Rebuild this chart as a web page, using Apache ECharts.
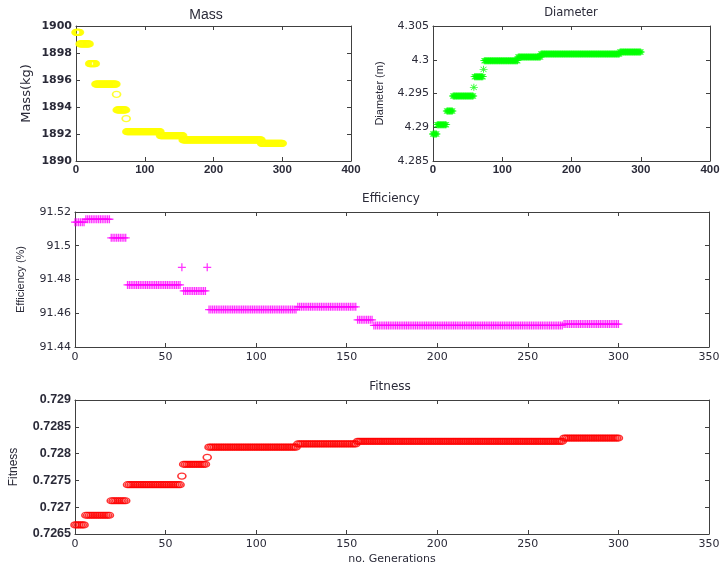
<!DOCTYPE html>
<html>
<head>
<meta charset="utf-8">
<script src="https://cdn.jsdelivr.net/npm/echarts@6/dist/echarts.min.js"></script>
<style>html,body{margin:0;padding:0;background:#fff;}#c{width:723px;height:570px;}</style>
</head>
<body>
<div id="c"></div>
<script>
// Step data: [firstGeneration, lastGeneration, value]
const massSteps = [
  [0, 5, 1899.53], [6, 19, 1898.67], [20, 28, 1897.21], [29, 58, 1895.70],
  [59, 59, 1894.94], [60, 72, 1893.78], [73, 73, 1893.14], [74, 122, 1892.17],
  [123, 155, 1891.88], [156, 269, 1891.56], [270, 300, 1891.31]
];
const diameterSteps = [
  [0, 5, 4.2890], [6, 19, 4.29038], [20, 28, 4.29241], [29, 58, 4.29463],
  [59, 59, 4.29591], [60, 72, 4.29749], [73, 73, 4.29858], [74, 122, 4.29986],
  [123, 155, 4.30041], [156, 269, 4.30085], [270, 300, 4.30115]
];
const efficiencySteps = [
  [0, 5, 91.5140], [6, 19, 91.5157], [20, 28, 91.5047], [29, 58, 91.4768],
  [59, 59, 91.4872], [60, 72, 91.4732], [73, 73, 91.4872], [74, 122, 91.4622],
  [123, 155, 91.4638], [156, 164, 91.4561], [165, 269, 91.4528], [270, 300, 91.4536]
];
const fitnessSteps = [
  [0, 5, 0.72667], [6, 19, 0.72685], [20, 28, 0.72712], [29, 58, 0.72742],
  [59, 59, 0.72758], [60, 72, 0.72780], [73, 73, 0.72793], [74, 122, 0.72812],
  [123, 155, 0.72818], [156, 269, 0.72823], [270, 300, 0.72829]
];

const titles = ['Mass', 'Diameter', 'Efficiency', 'Fitness'];
const yNames = ['Mass(kg)', 'Diameter (m)', 'Efficiency (%)', 'Fitness'];
const xName = 'no. Generations';

function expand(steps) {
  const out = [];
  steps.forEach(s => { for (let g = s[0]; g <= s[1]; g++) out.push([g, s[2]]); });
  return out;
}
const plain = v => String(+v.toPrecision(10));

const TXT = '#2a2a38';
const AX = '#404040';
const grids = [
  {left: 76, top: 26, width: 275, height: 135},
  {left: 433, top: 26, width: 277, height: 135},
  {left: 75, top: 212, width: 634, height: 135},
  {left: 75, top: 400, width: 634, height: 134}
];
const xCfg = [
  {min: 0, max: 400, interval: 100, font: {fontFamily: 'Liberation Sans', fontSize: 11.5, fontWeight: 'bold'}, margin: 3},
  {min: 0, max: 400, interval: 100, font: {fontFamily: 'Liberation Sans', fontSize: 11.5, fontWeight: 'bold'}, margin: 3},
  {min: 0, max: 350, interval: 50, font: {fontFamily: 'DejaVu Sans', fontSize: 11}, margin: 5},
  {min: 0, max: 350, interval: 50, font: {fontFamily: 'DejaVu Sans', fontSize: 11}, margin: 5}
];
const yCfg = [
  {min: 1890, max: 1900, interval: 2, font: {fontFamily: 'DejaVu Sans', fontSize: 11, fontWeight: 'bold'}, nameFont: {fontFamily: 'DejaVu Sans', fontSize: 13}, gap: 43},
  {min: 4.285, max: 4.305, interval: 0.005, font: {fontFamily: 'DejaVu Sans', fontSize: 11}, nameFont: {fontFamily: 'Liberation Sans', fontSize: 11}, gap: 48},
  {min: 91.44, max: 91.52, interval: 0.02, font: {fontFamily: 'DejaVu Sans', fontSize: 11}, nameFont: {fontFamily: 'Liberation Sans', fontSize: 11}, gap: 49},
  {min: 0.7265, max: 0.729, interval: 0.0005, font: {fontFamily: 'Liberation Sans', fontSize: 12.5, fontWeight: 'bold'}, nameFont: {fontFamily: 'Liberation Sans', fontSize: 12}, gap: 55}
];

const xAxis = [], yAxis = [];
grids.forEach((g, i) => {
  const xc = xCfg[i], yc = yCfg[i];
  const common = {gridIndex: i, splitLine: {show: false}, axisLine: {onZero: false, lineStyle: {color: AX, width: 1}},
    axisTick: {inside: true, length: 4, lineStyle: {color: AX}}};
  xAxis.push(Object.assign({}, common, {type: 'value', position: 'bottom', min: xc.min, max: xc.max, interval: xc.interval,
    axisLabel: Object.assign({color: TXT, margin: xc.margin, formatter: plain}, xc.font),
    name: i === 3 ? xName : '', nameLocation: 'middle', nameGap: 20,
    nameTextStyle: {fontFamily: 'DejaVu Sans', fontSize: 11, color: TXT}}));
  xAxis.push(Object.assign({}, common, {type: 'value', position: 'top', min: xc.min, max: xc.max, interval: xc.interval,
    axisLabel: {show: false}}));
  yAxis.push(Object.assign({}, common, {type: 'value', position: 'left', min: yc.min, max: yc.max, interval: yc.interval,
    axisLabel: Object.assign({color: TXT, margin: 4, formatter: plain}, yc.font),
    name: yNames[i], nameLocation: 'middle', nameGap: yc.gap,
    nameTextStyle: Object.assign({color: TXT}, yc.nameFont)}));
  yAxis.push(Object.assign({}, common, {type: 'value', position: 'right', min: yc.min, max: yc.max, interval: yc.interval,
    axisLabel: {show: false}}));
});

const plusPath = 'path://M0,4.2H10V5.8H0Z M4.2,0H5.8V10H4.2Z';
const starPath = 'path://M0,4.4H10V5.6H0Z M4.4,0H5.6V10H4.4Z M1,1.7L1.7,1L9,8.3L8.3,9Z M8.3,1L9,1.7L1.7,9L1,8.3Z';

const series = [
  {type: 'scatter', xAxisIndex: 0, yAxisIndex: 0, data: expand(massSteps), symbol: 'circle', symbolSize: [8, 6],
    itemStyle: {color: 'rgba(0,0,0,0)', borderColor: '#ffff00', borderWidth: 1.5}},
  {type: 'scatter', xAxisIndex: 2, yAxisIndex: 2, data: expand(diameterSteps), symbol: starPath, symbolSize: [8, 7],
    itemStyle: {color: '#00ff00'}},
  {type: 'scatter', xAxisIndex: 4, yAxisIndex: 4, data: expand(efficiencySteps), symbol: plusPath, symbolSize: [8, 8],
    itemStyle: {color: '#ff00ff'}},
  {type: 'scatter', xAxisIndex: 6, yAxisIndex: 6, data: expand(fitnessSteps), symbol: 'circle', symbolSize: [8, 6],
    itemStyle: {color: 'rgba(0,0,0,0)', borderColor: '#ff0000', borderWidth: 1.4}}
];
series.forEach(s => { s.animation = false; s.silent = true; s.large = false; });

const titlePos = [[206, 15, 'Liberation Sans', 14], [571, 13, 'DejaVu Sans', 11.5], [391, 199, 'DejaVu Sans', 12], [390, 387, 'DejaVu Sans', 12]];
const graphic = titles.map((t, i) => ({
  type: 'text', x: titlePos[i][0], y: titlePos[i][1], silent: true,
  style: {text: t, textAlign: 'center', textVerticalAlign: 'middle', fill: TXT,
    font: titlePos[i][3] + 'px "' + titlePos[i][2] + '"'}
}));

const chart = echarts.init(document.getElementById('c'), null, {renderer: 'canvas'});
chart.setOption({
  backgroundColor: '#ffffff',
  animation: false,
  grid: grids.map(g => Object.assign({outerBoundsMode: 'none', containLabel: false}, g)),
  xAxis: xAxis,
  yAxis: yAxis,
  series: series,
  graphic: graphic
});
</script>
</body>
</html>
